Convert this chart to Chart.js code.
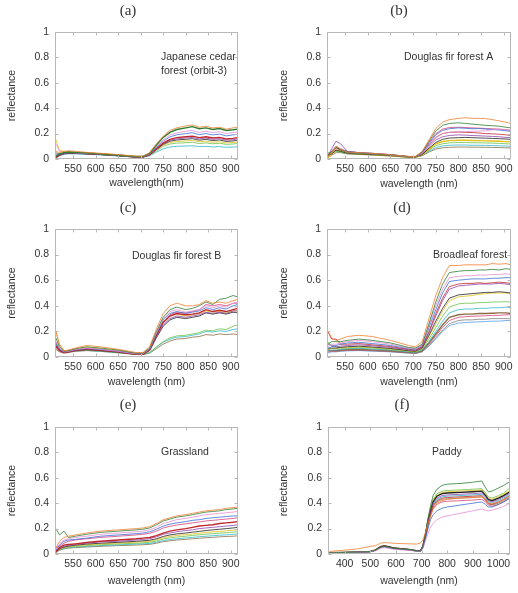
<!DOCTYPE html>
<html><head><meta charset="utf-8">
<script src="https://cdn.jsdelivr.net/npm/chart.js@4.4.1/dist/chart.umd.min.js"></script>
<style>
html,body{margin:0;padding:0;background:#fff;}
#wrap{position:relative;width:518px;height:593px;overflow:hidden;background:#fff;}
.panel{position:absolute;}
canvas{display:block;}
</style></head><body><div id="wrap">
<div class="panel" style="left:0;top:0"><canvas id="ca" width="259" height="195" style="width:259px;height:195px"></canvas></div>
<div class="panel" style="left:259px;top:0"><canvas id="cb" width="259" height="195" style="width:259px;height:195px"></canvas></div>
<div class="panel" style="left:0;top:195px"><canvas id="cc" width="259" height="198" style="width:259px;height:198px"></canvas></div>
<div class="panel" style="left:259px;top:195px"><canvas id="cd" width="259" height="198" style="width:259px;height:198px"></canvas></div>
<div class="panel" style="left:0;top:390px"><canvas id="ce" width="259" height="203" style="width:259px;height:203px"></canvas></div>
<div class="panel" style="left:259px;top:390px"><canvas id="cf" width="259" height="203" style="width:259px;height:203px"></canvas></div>
</div>
<script>
// ---------- DATA ----------
const wavelengths = [512,520,530,540,555,580,610,650,690,705,720,735,750,765,780,800,815,830,845,860,875,890,905,915];
const paddyWavelengths = [340,400,450,500,520,540,555,570,590,620,650,680,695,705,715,725,735,745,760,780,800,850,900,935,950,960,975,1000,1020,1045];
const xTicksShort = [550,600,650,700,750,800,850,900];
const xTicksPaddy = [400,500,600,700,800,900,1000];
const yTicks = [0,0.2,0.4,0.6,0.8,1];

const cedarSpectra = [
 [0.06,0.05,0.06,0.065,0.06,0.052,0.045,0.035,0.022,0.022,0.05,0.12,0.18,0.225,0.245,0.26,0.268,0.25,0.258,0.245,0.25,0.235,0.245,0.25],
 [0.02,0.04,0.05,0.055,0.052,0.048,0.04,0.03,0.02,0.02,0.045,0.11,0.17,0.21,0.232,0.245,0.255,0.238,0.245,0.232,0.24,0.225,0.23,0.235],
 [0.12,0.06,0.055,0.055,0.05,0.047,0.04,0.03,0.018,0.018,0.04,0.1,0.15,0.19,0.205,0.218,0.225,0.21,0.218,0.208,0.215,0.2,0.208,0.212],
 [0.03,0.035,0.045,0.05,0.048,0.044,0.038,0.028,0.017,0.017,0.038,0.09,0.14,0.175,0.19,0.2,0.207,0.192,0.2,0.19,0.196,0.182,0.19,0.195],
 [0.01,0.03,0.045,0.05,0.047,0.043,0.037,0.027,0.016,0.016,0.035,0.08,0.125,0.155,0.168,0.175,0.18,0.168,0.175,0.165,0.17,0.158,0.162,0.168],
 [0.04,0.04,0.05,0.052,0.05,0.045,0.038,0.028,0.016,0.016,0.034,0.078,0.12,0.148,0.158,0.165,0.17,0.158,0.165,0.155,0.16,0.148,0.152,0.158],
 [0.02,0.03,0.04,0.045,0.044,0.04,0.035,0.026,0.015,0.015,0.032,0.074,0.115,0.14,0.15,0.155,0.16,0.148,0.155,0.145,0.15,0.138,0.142,0.148],
 [0.15,0.07,0.06,0.058,0.055,0.05,0.042,0.032,0.02,0.02,0.036,0.075,0.11,0.13,0.138,0.142,0.146,0.136,0.14,0.132,0.136,0.126,0.13,0.134],
 [0.05,0.04,0.05,0.05,0.048,0.043,0.036,0.027,0.016,0.016,0.03,0.065,0.1,0.118,0.125,0.128,0.132,0.122,0.127,0.12,0.124,0.115,0.118,0.122],
 [0.01,0.025,0.038,0.04,0.04,0.037,0.032,0.024,0.014,0.014,0.025,0.055,0.08,0.095,0.1,0.102,0.104,0.098,0.1,0.095,0.098,0.092,0.094,0.096]
];
const firASpectra = [
 [0.02,0.05,0.1,0.08,0.055,0.05,0.045,0.035,0.02,0.02,0.06,0.15,0.24,0.29,0.31,0.32,0.325,0.32,0.32,0.318,0.31,0.3,0.29,0.28],
 [0.03,0.06,0.09,0.07,0.05,0.045,0.04,0.032,0.018,0.018,0.055,0.14,0.22,0.265,0.28,0.285,0.28,0.275,0.27,0.265,0.262,0.258,0.25,0.245],
 [0.04,0.05,0.08,0.07,0.05,0.045,0.04,0.03,0.018,0.018,0.045,0.11,0.17,0.2,0.21,0.215,0.215,0.218,0.22,0.222,0.23,0.235,0.232,0.228],
 [0.03,0.06,0.1,0.08,0.06,0.05,0.045,0.034,0.02,0.02,0.05,0.12,0.19,0.225,0.238,0.245,0.242,0.238,0.24,0.236,0.232,0.228,0.222,0.218],
 [0.02,0.05,0.09,0.075,0.055,0.048,0.042,0.032,0.018,0.018,0.045,0.11,0.17,0.2,0.21,0.212,0.21,0.208,0.205,0.2,0.198,0.195,0.19,0.186],
 [0.02,0.08,0.14,0.12,0.06,0.05,0.042,0.032,0.018,0.018,0.04,0.1,0.15,0.175,0.185,0.19,0.188,0.185,0.183,0.18,0.178,0.175,0.17,0.168],
 [0.03,0.04,0.07,0.06,0.045,0.04,0.035,0.027,0.016,0.016,0.035,0.085,0.13,0.155,0.165,0.168,0.17,0.168,0.166,0.164,0.162,0.16,0.157,0.155],
 [0.01,0.04,0.07,0.065,0.045,0.04,0.035,0.026,0.015,0.015,0.032,0.078,0.12,0.138,0.145,0.148,0.148,0.146,0.145,0.143,0.142,0.14,0.137,0.135],
 [0.05,0.05,0.06,0.055,0.045,0.04,0.034,0.026,0.015,0.015,0.03,0.07,0.105,0.12,0.127,0.13,0.13,0.128,0.128,0.126,0.125,0.123,0.12,0.118],
 [0.02,0.04,0.06,0.055,0.042,0.038,0.033,0.025,0.014,0.014,0.028,0.062,0.09,0.103,0.108,0.11,0.11,0.108,0.108,0.107,0.106,0.104,0.102,0.1],
 [0.01,0.03,0.05,0.05,0.04,0.036,0.031,0.024,0.014,0.014,0.025,0.055,0.078,0.088,0.092,0.094,0.094,0.093,0.093,0.092,0.091,0.09,0.088,0.087],
 [0.04,0.06,0.09,0.075,0.058,0.05,0.044,0.034,0.02,0.02,0.05,0.13,0.2,0.235,0.248,0.25,0.248,0.245,0.243,0.24,0.238,0.235,0.23,0.225]
];
const firBSpectra = [
 [0.2,0.1,0.05,0.055,0.07,0.09,0.08,0.06,0.035,0.035,0.08,0.22,0.34,0.4,0.42,0.4,0.4,0.41,0.44,0.42,0.43,0.42,0.44,0.45],
 [0.15,0.08,0.045,0.05,0.065,0.08,0.07,0.055,0.03,0.03,0.07,0.2,0.31,0.37,0.39,0.37,0.38,0.4,0.43,0.41,0.45,0.46,0.48,0.47],
 [0.12,0.07,0.04,0.045,0.058,0.07,0.06,0.045,0.025,0.025,0.065,0.19,0.3,0.355,0.37,0.35,0.36,0.37,0.4,0.385,0.4,0.39,0.42,0.43],
 [0.1,0.06,0.04,0.045,0.055,0.065,0.058,0.044,0.025,0.025,0.06,0.18,0.29,0.34,0.355,0.34,0.35,0.36,0.385,0.37,0.385,0.375,0.4,0.41],
 [0.08,0.05,0.035,0.04,0.05,0.06,0.052,0.04,0.022,0.022,0.055,0.17,0.27,0.32,0.34,0.33,0.335,0.345,0.37,0.355,0.365,0.355,0.37,0.38],
 [0.12,0.06,0.04,0.045,0.055,0.065,0.058,0.044,0.025,0.025,0.055,0.16,0.25,0.3,0.32,0.31,0.32,0.33,0.35,0.34,0.35,0.34,0.36,0.36],
 [0.09,0.05,0.035,0.04,0.05,0.058,0.05,0.038,0.022,0.022,0.05,0.15,0.24,0.29,0.31,0.3,0.31,0.32,0.345,0.335,0.345,0.335,0.35,0.345],
 [0.2,0.09,0.05,0.05,0.06,0.075,0.065,0.05,0.028,0.028,0.06,0.17,0.27,0.32,0.335,0.32,0.33,0.34,0.36,0.35,0.355,0.345,0.36,0.36],
 [0.1,0.05,0.035,0.04,0.048,0.055,0.048,0.036,0.02,0.02,0.035,0.08,0.12,0.15,0.165,0.17,0.18,0.19,0.21,0.205,0.22,0.215,0.24,0.25],
 [0.08,0.05,0.035,0.04,0.046,0.052,0.045,0.034,0.02,0.02,0.032,0.075,0.115,0.14,0.155,0.16,0.17,0.18,0.2,0.195,0.205,0.2,0.215,0.22],
 [0.06,0.04,0.03,0.035,0.044,0.05,0.044,0.033,0.019,0.019,0.03,0.065,0.1,0.125,0.14,0.145,0.155,0.16,0.175,0.17,0.18,0.175,0.18,0.175],
 [0.11,0.06,0.04,0.045,0.055,0.065,0.057,0.043,0.024,0.024,0.058,0.17,0.27,0.33,0.35,0.345,0.355,0.37,0.41,0.4,0.41,0.4,0.42,0.42]
];
const broadleafSpectra = [
 [0.2,0.15,0.13,0.14,0.16,0.17,0.16,0.13,0.09,0.08,0.12,0.3,0.48,0.62,0.715,0.715,0.72,0.72,0.72,0.72,0.73,0.725,0.73,0.72],
 [0.1,0.12,0.12,0.12,0.13,0.14,0.13,0.11,0.075,0.07,0.1,0.26,0.43,0.57,0.66,0.67,0.675,0.675,0.68,0.68,0.685,0.68,0.69,0.685],
 [0.08,0.1,0.1,0.11,0.12,0.13,0.12,0.1,0.07,0.065,0.095,0.25,0.4,0.53,0.62,0.63,0.635,0.635,0.64,0.64,0.645,0.645,0.65,0.645],
 [0.06,0.08,0.09,0.1,0.11,0.115,0.105,0.09,0.065,0.06,0.09,0.23,0.37,0.5,0.59,0.6,0.605,0.61,0.61,0.61,0.615,0.615,0.62,0.62],
 [0.2,0.14,0.14,0.1,0.1,0.105,0.095,0.082,0.06,0.055,0.08,0.2,0.34,0.46,0.55,0.57,0.575,0.575,0.58,0.575,0.58,0.585,0.58,0.575],
 [0.1,0.09,0.08,0.085,0.09,0.095,0.088,0.075,0.055,0.05,0.075,0.19,0.32,0.44,0.53,0.555,0.56,0.565,0.57,0.57,0.57,0.575,0.57,0.565],
 [0.07,0.07,0.07,0.075,0.08,0.085,0.078,0.067,0.05,0.045,0.07,0.17,0.28,0.38,0.46,0.485,0.49,0.495,0.5,0.505,0.505,0.51,0.505,0.5],
 [0.06,0.065,0.065,0.07,0.075,0.08,0.073,0.063,0.047,0.042,0.065,0.16,0.26,0.36,0.44,0.47,0.475,0.48,0.49,0.495,0.5,0.5,0.5,0.49],
 [0.12,0.09,0.08,0.07,0.07,0.075,0.07,0.06,0.045,0.04,0.06,0.14,0.23,0.32,0.39,0.415,0.42,0.42,0.425,0.425,0.43,0.43,0.432,0.43],
 [0.05,0.055,0.055,0.06,0.065,0.068,0.062,0.054,0.04,0.036,0.055,0.12,0.2,0.28,0.345,0.37,0.375,0.375,0.38,0.38,0.385,0.385,0.39,0.385],
 [0.05,0.05,0.05,0.055,0.058,0.06,0.056,0.049,0.037,0.033,0.05,0.11,0.18,0.25,0.31,0.33,0.335,0.335,0.34,0.34,0.342,0.345,0.345,0.34],
 [0.04,0.045,0.045,0.05,0.053,0.055,0.051,0.045,0.034,0.03,0.046,0.1,0.165,0.23,0.285,0.31,0.315,0.318,0.32,0.322,0.325,0.325,0.33,0.33],
 [0.06,0.05,0.045,0.048,0.05,0.052,0.048,0.042,0.032,0.028,0.042,0.09,0.15,0.21,0.26,0.285,0.29,0.29,0.295,0.295,0.3,0.3,0.3,0.298],
 [0.03,0.04,0.04,0.045,0.048,0.05,0.046,0.04,0.03,0.027,0.04,0.085,0.14,0.2,0.245,0.265,0.27,0.272,0.275,0.277,0.28,0.28,0.285,0.285]
];
const grassSpectra = [
 [0.05,0.1,0.13,0.14,0.15,0.165,0.18,0.19,0.2,0.205,0.215,0.24,0.27,0.285,0.3,0.31,0.32,0.33,0.34,0.345,0.35,0.36,0.365,0.37],
 [0.2,0.15,0.18,0.13,0.14,0.155,0.17,0.18,0.19,0.195,0.205,0.23,0.26,0.275,0.29,0.3,0.31,0.32,0.33,0.335,0.34,0.35,0.355,0.36],
 [0.04,0.08,0.11,0.12,0.13,0.14,0.155,0.165,0.175,0.18,0.19,0.21,0.24,0.255,0.27,0.28,0.29,0.3,0.31,0.315,0.32,0.325,0.33,0.335],
 [0.03,0.07,0.1,0.11,0.115,0.125,0.14,0.15,0.16,0.165,0.175,0.195,0.22,0.235,0.245,0.255,0.265,0.27,0.28,0.285,0.29,0.295,0.3,0.3],
 [0.02,0.05,0.07,0.075,0.08,0.09,0.1,0.11,0.12,0.125,0.13,0.145,0.165,0.18,0.19,0.2,0.21,0.22,0.225,0.23,0.24,0.245,0.25,0.255],
 [0.01,0.04,0.06,0.068,0.075,0.085,0.095,0.1,0.11,0.115,0.12,0.135,0.155,0.165,0.175,0.185,0.19,0.2,0.205,0.21,0.215,0.22,0.225,0.23],
 [0.02,0.04,0.055,0.062,0.07,0.078,0.085,0.092,0.1,0.104,0.108,0.12,0.138,0.15,0.158,0.165,0.172,0.178,0.185,0.19,0.195,0.2,0.205,0.21],
 [0.01,0.035,0.05,0.058,0.065,0.072,0.079,0.086,0.093,0.097,0.1,0.112,0.128,0.138,0.146,0.152,0.158,0.164,0.17,0.174,0.178,0.183,0.187,0.19],
 [0.03,0.04,0.05,0.055,0.06,0.066,0.073,0.079,0.085,0.088,0.092,0.103,0.118,0.127,0.134,0.14,0.146,0.151,0.156,0.16,0.164,0.168,0.172,0.175],
 [0.02,0.03,0.045,0.05,0.055,0.06,0.066,0.072,0.078,0.08,0.083,0.093,0.106,0.114,0.12,0.126,0.131,0.136,0.14,0.144,0.148,0.151,0.155,0.158],
 [0.01,0.03,0.04,0.046,0.05,0.055,0.06,0.066,0.07,0.073,0.076,0.085,0.097,0.104,0.11,0.115,0.12,0.124,0.128,0.131,0.135,0.138,0.14,0.143],
 [0.05,0.06,0.085,0.1,0.11,0.12,0.13,0.14,0.15,0.155,0.163,0.18,0.205,0.218,0.228,0.238,0.245,0.252,0.26,0.265,0.27,0.275,0.28,0.285]
];
const paddySpectra = [
 [0.02,0.03,0.04,0.06,0.065,0.085,0.09,0.088,0.085,0.082,0.08,0.078,0.085,0.11,0.17,0.24,0.3,0.35,0.4,0.42,0.43,0.44,0.445,0.45,0.42,0.4,0.395,0.41,0.43,0.46],
 [0.01,0.012,0.015,0.02,0.03,0.055,0.06,0.055,0.045,0.04,0.035,0.025,0.022,0.06,0.16,0.28,0.38,0.46,0.51,0.54,0.55,0.555,0.565,0.575,0.52,0.49,0.495,0.52,0.54,0.57],
 [0.01,0.012,0.014,0.018,0.025,0.045,0.05,0.045,0.038,0.033,0.03,0.022,0.02,0.04,0.1,0.16,0.21,0.24,0.27,0.29,0.3,0.32,0.34,0.355,0.345,0.34,0.345,0.36,0.375,0.4],
 [0.01,0.012,0.014,0.018,0.028,0.05,0.055,0.05,0.042,0.036,0.032,0.024,0.021,0.05,0.12,0.2,0.27,0.31,0.34,0.36,0.37,0.385,0.4,0.41,0.39,0.37,0.37,0.39,0.41,0.44],
 [0.01,0.012,0.015,0.019,0.03,0.056,0.062,0.056,0.046,0.04,0.034,0.025,0.022,0.055,0.14,0.24,0.32,0.38,0.42,0.44,0.445,0.45,0.455,0.46,0.43,0.4,0.39,0.41,0.43,0.46],
 [0.01,0.012,0.015,0.019,0.03,0.057,0.063,0.057,0.046,0.04,0.035,0.025,0.022,0.056,0.15,0.25,0.33,0.4,0.44,0.46,0.465,0.47,0.475,0.48,0.45,0.42,0.41,0.43,0.45,0.48],
 [0.01,0.012,0.015,0.02,0.031,0.058,0.064,0.058,0.047,0.041,0.035,0.026,0.023,0.058,0.15,0.26,0.34,0.41,0.455,0.475,0.48,0.485,0.49,0.495,0.46,0.43,0.42,0.44,0.46,0.49],
 [0.012,0.013,0.016,0.02,0.032,0.06,0.066,0.06,0.048,0.042,0.036,0.026,0.023,0.06,0.155,0.265,0.35,0.42,0.465,0.485,0.49,0.495,0.5,0.505,0.47,0.44,0.43,0.45,0.47,0.5],
 [0.012,0.013,0.016,0.02,0.032,0.06,0.066,0.06,0.049,0.043,0.037,0.027,0.024,0.06,0.155,0.27,0.355,0.43,0.475,0.495,0.5,0.505,0.51,0.515,0.48,0.45,0.44,0.46,0.48,0.52],
 [0.011,0.012,0.015,0.019,0.03,0.056,0.061,0.056,0.045,0.039,0.034,0.025,0.022,0.054,0.14,0.24,0.32,0.39,0.43,0.45,0.455,0.46,0.465,0.47,0.44,0.41,0.4,0.42,0.44,0.47],
 [0.01,0.012,0.014,0.018,0.029,0.054,0.06,0.054,0.044,0.038,0.033,0.024,0.021,0.052,0.135,0.23,0.31,0.37,0.41,0.43,0.435,0.44,0.445,0.45,0.42,0.395,0.385,0.4,0.42,0.45],
 [0.01,0.012,0.014,0.018,0.029,0.054,0.059,0.053,0.043,0.037,0.032,0.024,0.021,0.05,0.13,0.22,0.3,0.36,0.39,0.41,0.415,0.42,0.425,0.43,0.41,0.385,0.375,0.39,0.41,0.44]
];
const lineColors = ['#f07f30','#2e7d32','#e58fd0','#3b6fd6','#c0282d','#8e44ad','#222222','#e2c21a','#6cc24a','#30b8c8','#8c6d46','#d6447a','#7f7f7f','#56a0e8'];

// ---------- RENDERING ----------
const FONT = '"Liberation Sans", Arial, sans-serif';
const TXT = '#333';

const framePlugin = {
  id: 'frame',
  afterDatasetsDraw(chart, args, o) {
    const {ctx, chartArea: a, scales: {x, y}} = chart;
    ctx.save();
    ctx.strokeStyle = '#b8b8b8';
    ctx.lineWidth = 1;
    const l = Math.round(a.left) + 0.5, r = Math.round(a.right) - 0.5, t = Math.round(a.top) + 0.5, b = Math.round(a.bottom) - 0.5;
    ctx.strokeRect(l, t, r - l, b - t);
    ctx.beginPath();
    x.ticks.forEach(tk => {
      const px = Math.round(x.getPixelForValue(tk.value)) + 0.5;
      ctx.moveTo(px, b); ctx.lineTo(px, b - 3);
      ctx.moveTo(px, t); ctx.lineTo(px, t + 3);
    });
    y.ticks.forEach(tk => {
      const py = Math.round(y.getPixelForValue(tk.value)) + 0.5;
      ctx.moveTo(l, py); ctx.lineTo(l + 3, py);
      ctx.moveTo(r, py); ctx.lineTo(r - 3, py);
    });
    ctx.stroke();
    ctx.fillStyle = TXT;
    ctx.font = '10.5px ' + FONT;
    ctx.textAlign = 'left';
    ctx.textBaseline = 'middle';
    o.notes.forEach(n => ctx.fillText(n[0], n[1], n[2]));
    ctx.font = '15px "Liberation Serif", "Times New Roman", serif';
    ctx.textAlign = 'center';
    ctx.fillText(o.letter, o.lx, o.ly);
    ctx.restore();
  }
};

function makePanel(id, g, wl, spectra, xMin, xMax, xTicks, xTitle, letter, notes, bold) {
  const canvas = document.getElementById(id);
  const W = canvas.width, H = canvas.height;
  const padLeft = g.ytx - 6.3;
  const xH = g.xtc - g.B + 6.3;
  const datasets = spectra.map((vals, i) => ({
    data: vals.map((v, j) => ({x: wl[j], y: v})),
    borderColor: lineColors[i % lineColors.length],
    borderWidth: bold.includes(i) ? 1.4 : 0.8,
    pointRadius: 0,
    fill: false,
    tension: 0
  }));
  return new Chart(canvas, {
    type: 'line',
    data: {datasets},
    plugins: [framePlugin],
    options: {
      responsive: false,
      animation: false,
      devicePixelRatio: 1,
      layout: {padding: {left: padLeft, top: g.T, right: W - g.R, bottom: H - g.B - xH}},
      plugins: {
        legend: {display: false},
        tooltip: {enabled: false},
        frame: {letter, lx: g.lx, ly: g.ly, notes}
      },
      scales: {
        x: {
          type: 'linear', min: xMin, max: xMax,
          afterBuildTicks: s => { s.ticks = xTicks.map(v => ({value: v})); },
          afterFit: s => { s.height = xH; },
          grid: {display: false, drawTicks: false},
          border: {display: false},
          ticks: {padding: 4, color: TXT, font: {family: FONT, size: 10.5}, maxRotation: 0, autoSkip: false, callback: v => String(v)},
          title: {display: true, text: xTitle, color: TXT, font: {family: FONT, size: 10.5}, padding: 0}
        },
        y: {
          type: 'linear', min: 0, max: 1,
          afterBuildTicks: s => { s.ticks = yTicks.map(v => ({value: v})); },
          afterFit: s => { s.width = g.L - padLeft; },
          grid: {display: false, drawTicks: false},
          border: {display: false},
          ticks: {padding: 6, color: TXT, font: {family: FONT, size: 10.5}, callback: v => String(+v.toFixed(1))},
          title: {display: true, text: 'reflectance', color: TXT, font: {family: FONT, size: 10.5}, padding: 0}
        }
      }
    }
  });
}

makePanel('ca', {L:55, R:238, T:32, B:159, ytx:12.3, xtc:183, lx:128, ly:11},
  wavelengths, cedarSpectra, 510, 916, xTicksShort, 'wavelength(nm)', '(a)',
  [['Japanese cedar', 161, 57], ['forest (orbit-3)', 161, 71]], [1, 4]);
makePanel('cb', {L:68, R:252, T:32, B:159, ytx:25, xtc:184, lx:140, ly:11},
  wavelengths, firASpectra, 510, 916, xTicksShort, 'wavelength (nm)', '(b)',
  [['Douglas fir forest A', 145, 57]], [7]);
makePanel('cc', {L:55, R:238, T:34, B:162, ytx:12.3, xtc:187, lx:128, ly:13},
  wavelengths, firBSpectra, 510, 916, xTicksShort, 'wavelength (nm)', '(c)',
  [['Douglas fir forest B', 132, 61]], [4]);
makePanel('cd', {L:68, R:252, T:34, B:162, ytx:25, xtc:187, lx:143, ly:13},
  wavelengths, broadleafSpectra, 510, 916, xTicksShort, 'wavelength (nm)', '(d)',
  [['Broadleaf forest', 174, 60]], [10]);
makePanel('ce', {L:55, R:238, T:37, B:164, ytx:12.3, xtc:191, lx:128, ly:15},
  wavelengths, grassSpectra, 510, 916, xTicksShort, 'wavelength (nm)', '(e)',
  [['Grassland', 161, 62]], [4]);
makePanel('cf', {L:69, R:251, T:37, B:164, ytx:25, xtc:191, lx:143, ly:15},
  paddyWavelengths, paddySpectra, 335, 1045, xTicksPaddy, 'wavelength (nm)', '(f)',
  [['Paddy', 173, 62]], [6]);
</script>
</body></html>
